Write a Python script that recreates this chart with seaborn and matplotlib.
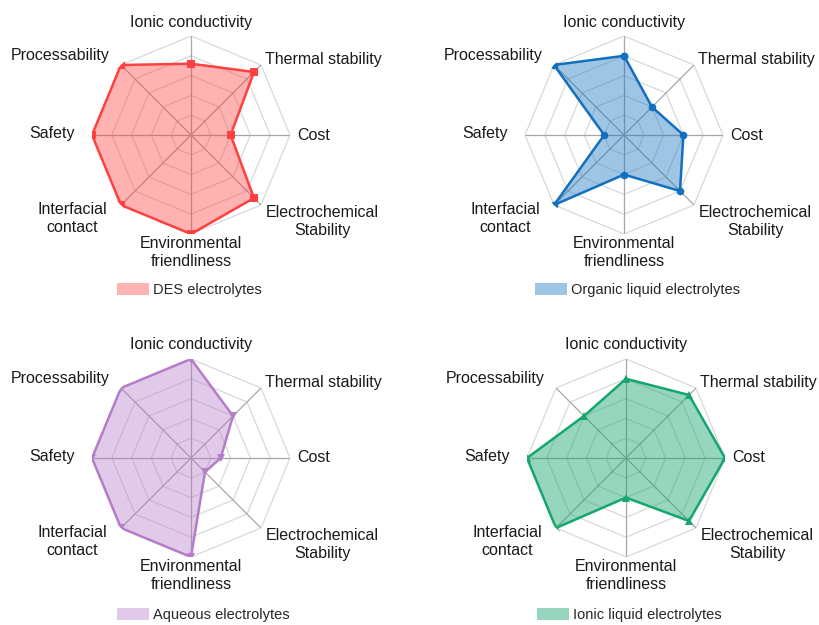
import numpy as np
import pandas as pd
import matplotlib
matplotlib.use("Agg")
import matplotlib.pyplot as plt
import seaborn as sns
from matplotlib.patches import Patch

# ---------------- data ----------------
categories = ["Ionic conductivity", "Thermal stability", "Cost",
              "Electrochemical\nStability", "Environmental\nfriendliness",
              "Interfacial\ncontact", "Safety", "Processability"]
des_values = [3.6, 4.5, 2.0, 4.5, 5.0, 5.0, 5.0, 5.0]
organic_values = [4.0, 2.0, 3.0, 4.0, 2.0, 5.0, 1.0, 5.0]
aqueous_values = [5.0, 3.0, 1.5, 1.0, 5.0, 5.0, 5.0, 5.0]
ionic_liquid_values = [4.0, 4.5, 5.0, 4.5, 2.0, 5.0, 5.0, 3.0]
series_names = ["DES electrolytes", "Organic liquid electrolytes",
                "Aqueous electrolytes", "Ionic liquid electrolytes"]
levels = [1, 2, 3, 4, 5]

# ---------------- style ----------------
sns.set_theme(style="white")
plt.rcParams["font.family"] = ["Liberation Sans", "DejaVu Sans"]

W, H = 820, 625
R = 99
centers = [(191, 135), (624, 135), (191, 458), (626, 458)]
legend_pos = [(117, 290), (535, 290), (117, 615), (537, 615)]
line_colors = ["#FF4040", "#1170C0", "#B57CC8", "#15A66E"]
fill_alpha = [0.40, 0.40, 0.40, 0.45]
markers = ["s", "o", "v", "^"]
all_values = [des_values, organic_values, aqueous_values, ionic_liquid_values]

# label placement relative to the outer vertex: (dx px, dy px, ha, va)
label_style = [(0, 14, "center", "center"), (4, 5, "left", "center"),
               (7, 0, "left", "center"), (5, 0, "left", "top"),
               (0, -2, "center", "top"), (-14, 3, "right", "top"),
               (-17, 2, "right", "center"), (-11, 9, "right", "center")]

n = len(categories)
angles = np.linspace(0, 2 * np.pi, n, endpoint=False)
closed_angles = np.append(angles, 2 * np.pi)

fig = plt.figure(figsize=(W / 100, H / 100), dpi=100)

for i, (cx, cy) in enumerate(centers):
    ax = fig.add_axes([(cx - R) / W, 1 - (cy + R) / H, 2 * R / W, 2 * R / H],
                      projection="polar")
    ax.set_theta_offset(np.pi / 2)
    ax.set_theta_direction(-1)
    ax.set_ylim(0, 5)
    ax.grid(False)
    ax.set_xticks([])
    ax.set_yticks([])
    ax.spines["polar"].set_visible(False)
    ax.patch.set_alpha(0)

    # octagonal grid rings
    for lv in levels:
        ax.plot(closed_angles, [lv] * (n + 1), color="#D9D9D9", lw=0.9, zorder=1)
    # spokes
    for a in angles:
        ax.plot([a, a], [0, levels[-1]], color="#A6A6A6", lw=0.9, zorder=1)

    vals = all_values[i]
    df = pd.DataFrame({"theta": closed_angles, "r": vals + vals[:1]})
    ax.fill(df["theta"], df["r"], color=line_colors[i], alpha=fill_alpha[i],
            lw=0, zorder=2)
    sns.lineplot(data=df, x="theta", y="r", sort=False, estimator=None,
                 ax=ax, color=line_colors[i], lw=1.8, marker=markers[i],
                 markersize=5.5, markeredgewidth=0, legend=False, zorder=3)
    ax.set_xlabel("")
    ax.set_ylabel("")
    ax.set_ylim(0, 5)

    for a, lab, (dx, dy, ha, va) in zip(angles, categories, label_style):
        ax.annotate(lab, xy=(a, levels[-1]), xytext=(dx, dy),
                    textcoords="offset pixels", ha=ha, va=va,
                    multialignment="center", fontsize=11.5, color="#1a1a1a",
                    linespacing=1.22, annotation_clip=False)

    lx, ly = legend_pos[i]
    handle = Patch(facecolor=line_colors[i], alpha=fill_alpha[i], edgecolor="none")
    ax.legend(handles=[handle], labels=[series_names[i]], loc="center left",
              bbox_to_anchor=(lx / W, 1 - ly / H), bbox_transform=fig.transFigure,
              frameon=False, fontsize=10.5, borderpad=0, borderaxespad=0,
              handlelength=2.2, handleheight=0.95, handletextpad=0.3)

fig.savefig("out.png", dpi=100, facecolor="white")
